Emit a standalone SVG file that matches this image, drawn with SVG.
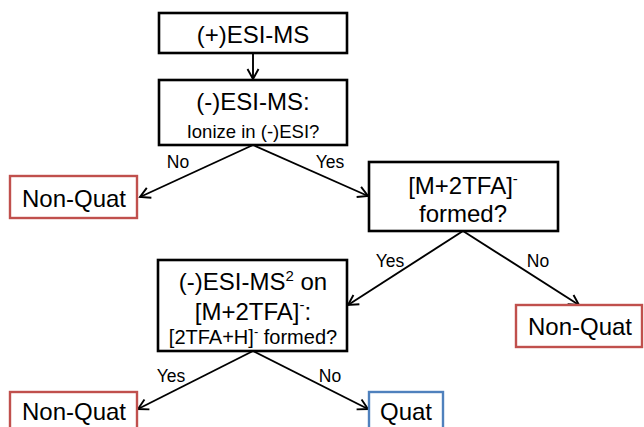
<svg xmlns="http://www.w3.org/2000/svg" width="644" height="427" viewBox="0 0 644 427">
  <style>
    text { font-family: "Liberation Sans", Arial, Helvetica, sans-serif; fill: #000; text-anchor: middle; }
    .big { font-size: 24px; }
    .small { font-size: 18.5px; }
    .lbl { font-size: 17.5px; }
    .step { fill: #fff; stroke: #000; stroke-width: 2.6; }
    .neg { fill: #fff; stroke: #c0504d; stroke-width: 2.4; }
    .pos { fill: #fff; stroke: #4f81bd; stroke-width: 2.4; }
    .edge { fill: none; stroke: #000; stroke-width: 1.9; }
  </style>
  <defs>
    <marker id="arrow" viewBox="-12 -7 14 14" refX="0" refY="0" markerWidth="14" markerHeight="14" markerUnits="userSpaceOnUse" orient="auto">
      <path d="M-10,-5.5 L0,0 L-10,5.5" fill="none" stroke="#000" stroke-width="1.9"/>
    </marker>
  </defs>

  <rect width="644" height="427" fill="#fff"/>

  <!-- connectors -->
  <g id="connectors">
    <line class="edge" x1="253" y1="53" x2="253" y2="79" marker-end="url(#arrow)"/>
    <line class="edge" x1="253" y1="145" x2="140" y2="197" marker-end="url(#arrow)"/>
    <line class="edge" x1="253" y1="145" x2="368" y2="196" marker-end="url(#arrow)"/>
    <line class="edge" x1="463" y1="231" x2="348" y2="305" marker-end="url(#arrow)"/>
    <line class="edge" x1="463" y1="231" x2="579" y2="305" marker-end="url(#arrow)"/>
    <line class="edge" x1="253" y1="351" x2="138" y2="409" marker-end="url(#arrow)"/>
    <line class="edge" x1="253" y1="351" x2="368" y2="409" marker-end="url(#arrow)"/>
    <text class="lbl" x="178" y="168">No</text>
    <text class="lbl" x="330" y="168">Yes</text>
    <text class="lbl" x="390" y="267">Yes</text>
    <text class="lbl" x="538" y="267">No</text>
    <text class="lbl" x="171" y="382">Yes</text>
    <text class="lbl" x="330" y="382">No</text>
  </g>

  <g id="pos-ms">
    <rect class="step" x="159" y="13" width="188" height="40"/>
    <text class="big" x="253" y="43">(+)ESI-MS</text>
  </g>

  <g id="neg-ms">
    <rect class="step" x="159" y="80" width="188" height="65"/>
    <text class="big" x="253" y="110">(-)ESI-MS:</text>
    <text class="small" x="253" y="138">Ionize in (-)ESI?</text>
  </g>

  <g id="nonquat-1">
    <rect class="neg" x="10" y="176" width="127" height="42"/>
    <text class="big" x="74" y="207">Non-Quat</text>
  </g>

  <g id="adduct">
    <rect class="step" x="369" y="162" width="189" height="69"/>
    <text class="big" x="463" y="194">[M+2TFA]<tspan font-size="15" dy="-10">-</tspan></text>
    <text class="big" x="463" y="222">formed?</text>
  </g>

  <g id="nonquat-2">
    <rect class="neg" x="516" y="305" width="126" height="42"/>
    <text class="big" x="580" y="335">Non-Quat</text>
  </g>

  <g id="ms2">
    <rect class="step" x="158" y="260" width="189" height="91"/>
    <text class="big" x="253" y="290">(-)ESI-MS<tspan font-size="15" dy="-9">2</tspan><tspan dy="9"> on</tspan></text>
    <text class="big" x="253" y="320">[M+2TFA]<tspan font-size="15" dy="-10">-</tspan><tspan dy="10">:</tspan></text>
    <text x="253" y="344" font-size="20">[2TFA+H]<tspan font-size="13" dy="-8">-</tspan><tspan dy="8"> formed?</tspan></text>
  </g>

  <g id="nonquat-3">
    <rect class="neg" x="10" y="392" width="127" height="42"/>
    <text class="big" x="74" y="420">Non-Quat</text>
  </g>

  <g id="quat">
    <rect class="pos" x="369" y="392" width="74" height="42"/>
    <text class="big" x="406" y="420">Quat</text>
  </g>
</svg>
